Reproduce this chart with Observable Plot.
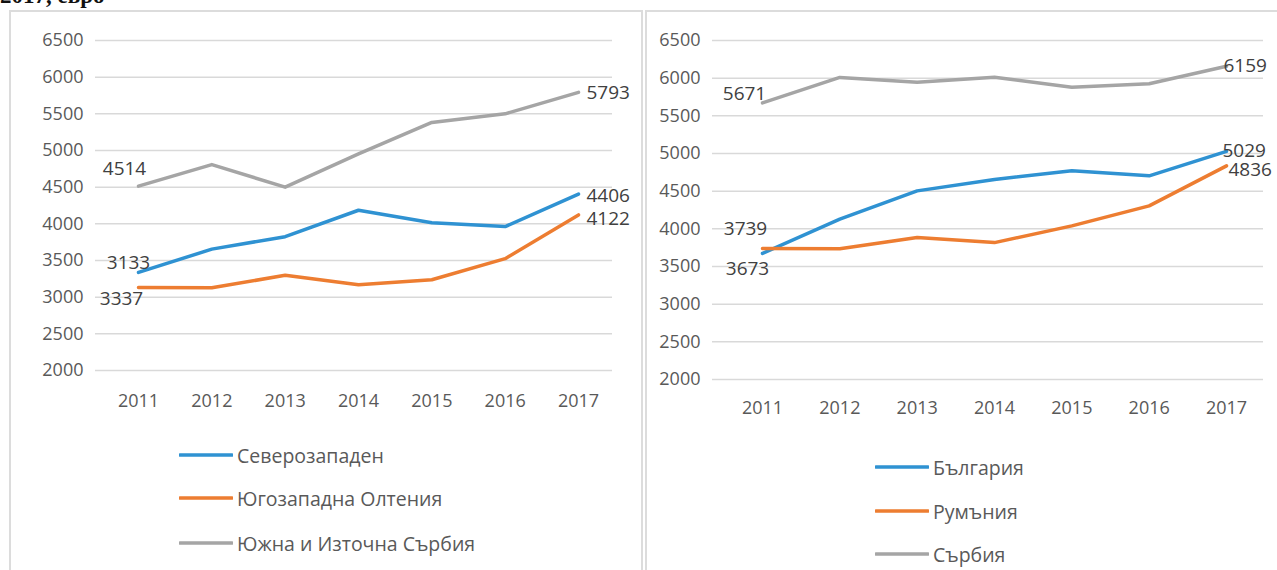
<!DOCTYPE html>
<html><head><meta charset="utf-8">
<script src="https://cdn.jsdelivr.net/npm/d3@7"></script>
<script src="https://cdn.jsdelivr.net/npm/@observablehq/plot@0.6"></script>
<style>
body{margin:0;background:#fff;overflow:hidden;}
#wrap{position:relative;width:1277px;height:570px;overflow:hidden;background:#fff;}
.title{position:absolute;left:0;top:-17px;font:bold 23px "Liberation Serif",serif;color:#111;white-space:nowrap;}
.panel{position:absolute;border:2px solid #dcdcdc;box-sizing:border-box;background:#fff;}
.chart{position:absolute;top:0;}
.item{position:absolute;display:flex;align-items:center;white-space:nowrap;font-family:"Open Sans",sans-serif;font-size:19.5px;color:#595959;}
.item svg{display:block;margin-right:4px;}
</style></head><body><div id="wrap"><div class="title">2017, евро</div></div>
<script>
const years = [2011, 2012, 2013, 2014, 2015, 2016, 2017];
const yTicks = [2000, 2500, 3000, 3500, 4000, 4500, 5000, 5500, 6000, 6500];
const colors = ["#2f92d2", "#ed7d31", "#a5a5a5"];

// left panel
const leftSeries = ["Северозападен", "Югозападна Олтения", "Южна и Източна Сърбия"];
const severozapaden = [3337, 3655, 3825, 4185, 4015, 3962, 4406];
const oltenia = [3133, 3128, 3298, 3170, 3238, 3525, 4122];
const serbiaSE = [4514, 4808, 4500, 4953, 5383, 5500, 5793];

// right panel
const rightSeries = ["България", "Румъния", "Сърбия"];
const bulgaria = [3673, 4128, 4504, 4655, 4770, 4704, 5029];
const romania = [3739, 3735, 3886, 3817, 4039, 4305, 4836];
const serbia = [5671, 6010, 5945, 6012, 5880, 5925, 6159];

function toRows(names, arrays) {
  const rows = [];
  names.forEach((s, i) => years.forEach((y, j) => rows.push({series: s, year: y, value: arrays[i][j]})));
  return rows;
}
const leftData = toRows(leftSeries, [severozapaden, oltenia, serbiaSE]);
const rightData = toRows(rightSeries, [bulgaria, romania, serbia]);

function lab(data, series, year, opts) {
  return Plot.text(data.filter(d => d.series === series && d.year === year), {
    x: "year", y: "value", text: d => String(d.value),
    fill: "#404040", fontSize: 19, ...opts
  });
}

function chart(data, names, cfg) {
  return Plot.plot({
    width: cfg.width, height: cfg.height,
    marginLeft: cfg.ml, marginRight: cfg.mr, marginTop: cfg.mt, marginBottom: cfg.mb,
    style: {fontFamily: "Open Sans, sans-serif", fontSize: "18px", background: "none", overflow: "visible"},
    x: {domain: [2011, 2017], range: cfg.xr},
    y: {domain: [2000, 6500]},
    color: {domain: names, range: colors},
    marks: [
      Plot.ruleY(yTicks, {stroke: "#d9d9d9", strokeWidth: 1.5}),
      Plot.axisY({ticks: yTicks, tickFormat: d => String(d), tickSize: 0, tickPadding: cfg.yp, label: null, fill: "#595959", fontSize: 18}),
      Plot.axisX({ticks: years, tickFormat: d => String(d), tickSize: 0, tickPadding: cfg.xp, label: null, fill: "#595959", fontSize: 18}),
      Plot.line(data, {x: "year", y: "value", z: "series", stroke: "series", strokeWidth: 3.5, strokeLinejoin: "round"}),
      ...cfg.labels(data)
    ]
  });
}

const wrap = document.getElementById("wrap");
function panel(left, top, w, h) {
  const p = document.createElement("div");
  p.className = "panel";
  Object.assign(p.style, {left: left + "px", top: top + "px", width: w + "px", height: h + "px"});
  wrap.appendChild(p);
}
panel(9, 10, 634, 620);
panel(645, 10, 700, 620);

const leftChart = chart(leftData, leftSeries, {
  width: 640, height: 420, ml: 95, mr: 28, mt: 40, mb: 50, xr: [138, 578], yp: 12, xp: 24,
  labels: d => [
    lab(d, leftSeries[2], 2011, {dx: -14, dy: -17}),
    lab(d, leftSeries[2], 2017, {textAnchor: "start", dx: 8, dy: 1}),
    lab(d, leftSeries[0], 2017, {textAnchor: "start", dx: 8, dy: 2}),
    lab(d, leftSeries[1], 2017, {textAnchor: "start", dx: 8, dy: 4}),
    lab(d, leftSeries[1], 2011, {dx: -10, dy: -25}),
    lab(d, leftSeries[0], 2011, {dx: -17, dy: 26})
  ]
});
leftChart.classList.add("chart");
leftChart.style.left = "0px";
wrap.appendChild(leftChart);

const rightChart = chart(rightData, rightSeries, {
  width: 637, height: 430, ml: 72, mr: 14, mt: 40, mb: 51, xr: [122, 586], yp: 12, xp: 22,
  labels: d => [
    lab(d, rightSeries[2], 2011, {dx: -18, dy: -9}),
    lab(d, rightSeries[2], 2017, {textAnchor: "start", dx: -3, dy: 0}),
    lab(d, rightSeries[0], 2017, {textAnchor: "start", dx: -4, dy: 0}),
    lab(d, rightSeries[1], 2017, {textAnchor: "start", dx: 2, dy: 4}),
    lab(d, rightSeries[1], 2011, {dx: -17, dy: -20}),
    lab(d, rightSeries[0], 2011, {dx: -15, dy: 15})
  ]
});
rightChart.classList.add("chart");
rightChart.style.left = "640px";
wrap.appendChild(rightChart);

function legend(names, x, ys) {
  names.forEach((n, i) => {
    const it = document.createElement("div");
    it.className = "item";
    it.style.left = x + "px";
    it.style.top = (ys[i] - 14) + "px";
    it.style.height = "28px";
    it.innerHTML = `<svg width="54" height="6"><line x1="1" y1="3" x2="53" y2="3" stroke="${colors[i]}" stroke-width="3.5" stroke-linecap="round"/></svg><span></span>`;
    it.querySelector("span").textContent = n;
    wrap.appendChild(it);
  });
}
legend(leftSeries, 179, [455, 498, 543]);
legend(rightSeries, 875, [467, 511, 554]);
</script>
</body></html>
